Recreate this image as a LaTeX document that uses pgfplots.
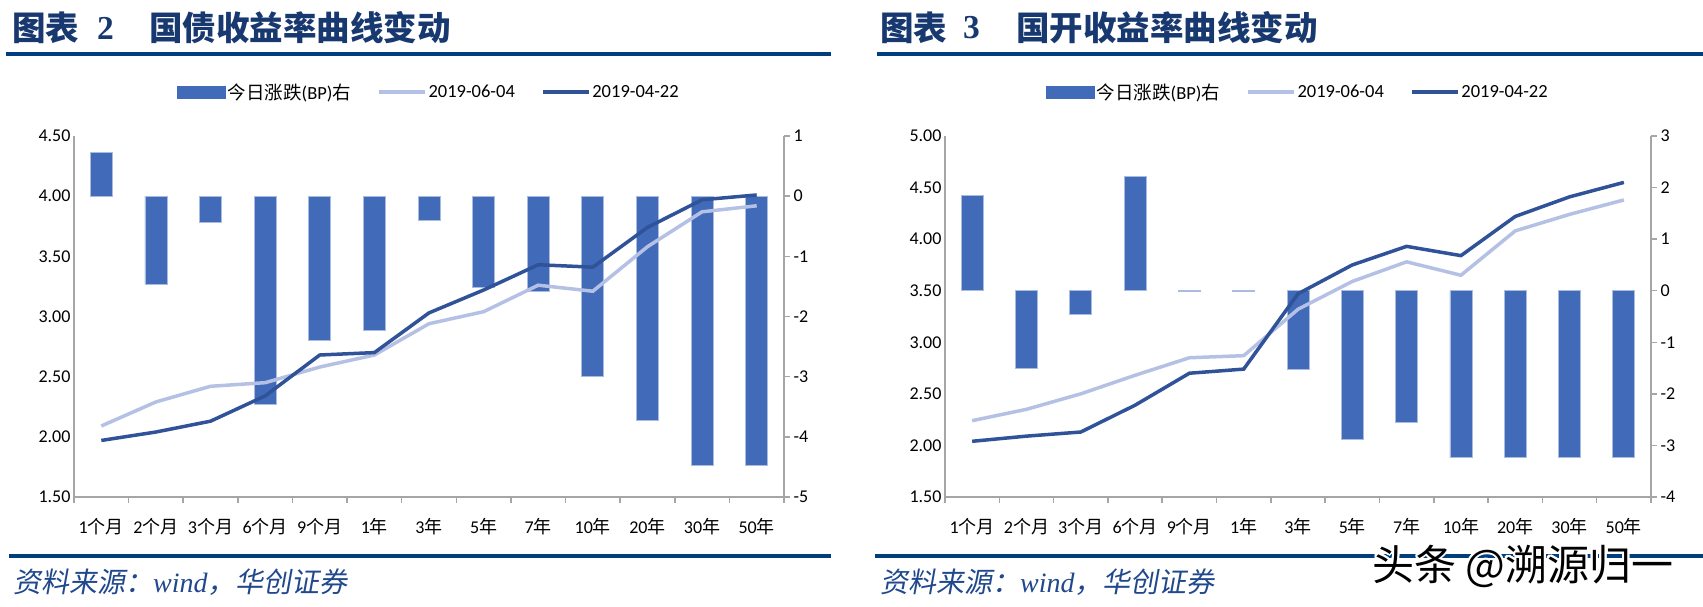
\documentclass[border=0pt]{standalone}
\usepackage{fontspec}
\usepackage{pgfplots}
\usepackage{pgfplotstable}
\usepackage{contour}
\pgfplotsset{compat=1.18}

\setmainfont{Carlito}
\newfontfamily\cjk{Noto Sans CJK SC}
\newfontfamily\cjksl{Noto Sans CJK SC}[FakeSlant=0.18]
\newfontfamily\serif{Liberation Serif}
\newcommand\cn[1]{{\cjk #1}}
\contourlength{2pt}

\definecolor{barblue}{RGB}{65,106,185}
\definecolor{lightline}{RGB}{180,193,229}
\definecolor{darkline}{RGB}{47,82,153}
\definecolor{titleblue}{RGB}{24,56,112}
\definecolor{rulecol}{RGB}{0,62,126}
\definecolor{srcblue}{RGB}{32,72,140}
\definecolor{axisgray}{RGB}{166,166,166}

% idx: category, bp: daily change (right axis), jun: 2019-06-04, apr: 2019-04-22
\pgfplotstableread{
idx bp jun apr
0 0.72 2.09 1.97
1 -1.46 2.29 2.04
2 -0.44 2.42 2.13
3 -3.46 2.45 2.34
4 -2.40 2.58 2.68
5 -2.23 2.68 2.70
6 -0.40 2.94 3.03
7 -1.52 3.04 3.22
8 -1.59 3.26 3.43
9 -2.99 3.21 3.41
10 -3.73 3.58 3.74
11 -4.48 3.87 3.97
12 -4.48 3.92 4.01
}\gzdata

\pgfplotstableread{
idx bp jun apr
0 1.85 2.24 2.04
1 -1.50 2.35 2.09
2 -0.45 2.50 2.13
3 2.21 2.68 2.39
4 -0.02 2.85 2.70
5 -0.02 2.87 2.74
6 -1.52 3.32 3.47
7 -2.88 3.59 3.75
8 -2.55 3.78 3.93
9 -3.24 3.65 3.84
10 -3.24 4.08 4.22
11 -3.24 4.24 4.41
12 -3.24 4.38 4.55
}\gkdata

\pgfplotsset{
  base/.style={scale only axis, height=361pt, anchor=south west,
    xmin=-0.5, xmax=12.5,
    tick label style={font=\fontsize{18}{18}\selectfont},
    /pgf/number format/assume math mode=true},
  barax/.style={base, axis y line*=right, axis x line*=bottom,
    ybar, bar width=22pt,
    xtick={0,...,12},
    xticklabels={1\cn{个月},2\cn{个月},3\cn{个月},6\cn{个月},9\cn{个月},1\cn{年},3\cn{年},5\cn{年},7\cn{年},10\cn{年},20\cn{年},30\cn{年},50\cn{年}},
    minor xtick={-0.5,0.5,...,12.5},
    tick align=outside, major tick length=6pt, minor tick length=6pt,
    tick style={draw=axisgray, line width=1.5pt},
    major x tick style={draw=none},
    x axis line style={draw=axisgray, line width=2.5pt},
    y axis line style={draw=axisgray, line width=1.5pt},
    xticklabel style={anchor=center, yshift=-24pt},
    yticklabel style={anchor=west},
    ytick distance=1},
  lineax/.style={base, axis y line*=left, axis x line=none,
    ytick distance=0.5, major tick length=0pt,
    y axis line style={draw=axisgray, line width=1.5pt},
    yticklabel style={/pgf/number format/.cd, fixed, fixed zerofill, precision=2},
    legend columns=3,
    legend style={at={(0.5,1.122)}, anchor=center, draw=none, fill=none,
      font=\fontsize{18.5}{18.5}\selectfont,
      /tikz/every even column/.append style={column sep=24pt}}},
  lineleg/.style={legend image code/.code={\draw[##1] (0pt,0pt) -- (46pt,0pt);}},
  barleg/.style={legend image code/.code={\fill[barblue] (0pt,-6pt) rectangle (48pt,6pt);}}
}

\begin{document}
\begin{tikzpicture}[x=1pt,y=1pt]
\path[use as bounding box] (0,0) rectangle (1703,607);

% headings and rules
\node[anchor=west, text=titleblue, font=\cjk\bfseries\fontsize{33.5}{33.5}\selectfont, inner sep=0] at (12,579) {图表};
\node[anchor=west, text=titleblue, font=\serif\bfseries\fontsize{33.5}{33.5}\selectfont, inner sep=0] at (97,579) {2};
\node[anchor=west, text=titleblue, font=\cjk\bfseries\fontsize{33.5}{33.5}\selectfont, inner sep=0] at (149,579) {国债收益率曲线变动};
\node[anchor=west, text=titleblue, font=\cjk\bfseries\fontsize{33.5}{33.5}\selectfont, inner sep=0] at (880,579) {图表};
\node[anchor=west, text=titleblue, font=\serif\bfseries\fontsize{33.5}{33.5}\selectfont, inner sep=0] at (963,579) {3};
\node[anchor=west, text=titleblue, font=\cjk\bfseries\fontsize{33.5}{33.5}\selectfont, inner sep=0] at (1016,579) {国开收益率曲线变动};
\fill[rulecol] (6,551) rectangle (831,555);
\fill[rulecol] (877,551) rectangle (1703,555);
\fill[rulecol] (9,49) rectangle (831,53);
\fill[rulecol] (875,49) rectangle (1703,53);
\node[anchor=west, text=srcblue, font=\fontsize{28}{28}\selectfont, inner sep=0] at (13,25) {\cjksl 资料来源：{\serif\itshape wind}，华创证券};
\node[anchor=west, text=srcblue, font=\fontsize{28}{28}\selectfont, inner sep=0] at (880,25) {\cjksl 资料来源：{\serif\itshape wind}，华创证券};

% left panel: treasury bonds
\begin{axis}[barax, at={(74pt,110pt)}, width=710pt, ymin=-5, ymax=1]
\addplot[fill=barblue, draw=barblue!45!white, line width=0.8pt] table[x=idx, y=bp] {\gzdata};
\end{axis}
\begin{axis}[lineax, at={(74pt,110pt)}, width=710pt, ymin=1.5, ymax=4.5]
\addlegendimage{barleg}
\addlegendentry{\cn{今日涨跌}(BP)\cn{右}}
\addplot[lineleg, lightline, line width=3.5pt] table[x=idx, y=jun] {\gzdata};
\addlegendentry{2019-06-04}
\addplot[lineleg, darkline, line width=3.5pt] table[x=idx, y=apr] {\gzdata};
\addlegendentry{2019-04-22}
\end{axis}

% right panel: policy bank bonds
\begin{axis}[barax, at={(945pt,110pt)}, width=706pt, ymin=-4, ymax=3]
\addplot[fill=barblue, draw=barblue!45!white, line width=0.8pt] table[x=idx, y=bp] {\gkdata};
\end{axis}
\begin{axis}[lineax, at={(945pt,110pt)}, width=706pt, ymin=1.5, ymax=5]
\addlegendimage{barleg}
\addlegendentry{\cn{今日涨跌}(BP)\cn{右}}
\addplot[lineleg, lightline, line width=3.5pt] table[x=idx, y=jun] {\gkdata};
\addlegendentry{2019-06-04}
\addplot[lineleg, darkline, line width=3.5pt] table[x=idx, y=apr] {\gkdata};
\addlegendentry{2019-04-22}
\end{axis}

\node[anchor=west, font=\cjk\fontsize{42}{42}\selectfont, inner sep=0] at (1372,40) {\contour{white}{头条 @溯源归一}};
\end{tikzpicture}
\end{document}
